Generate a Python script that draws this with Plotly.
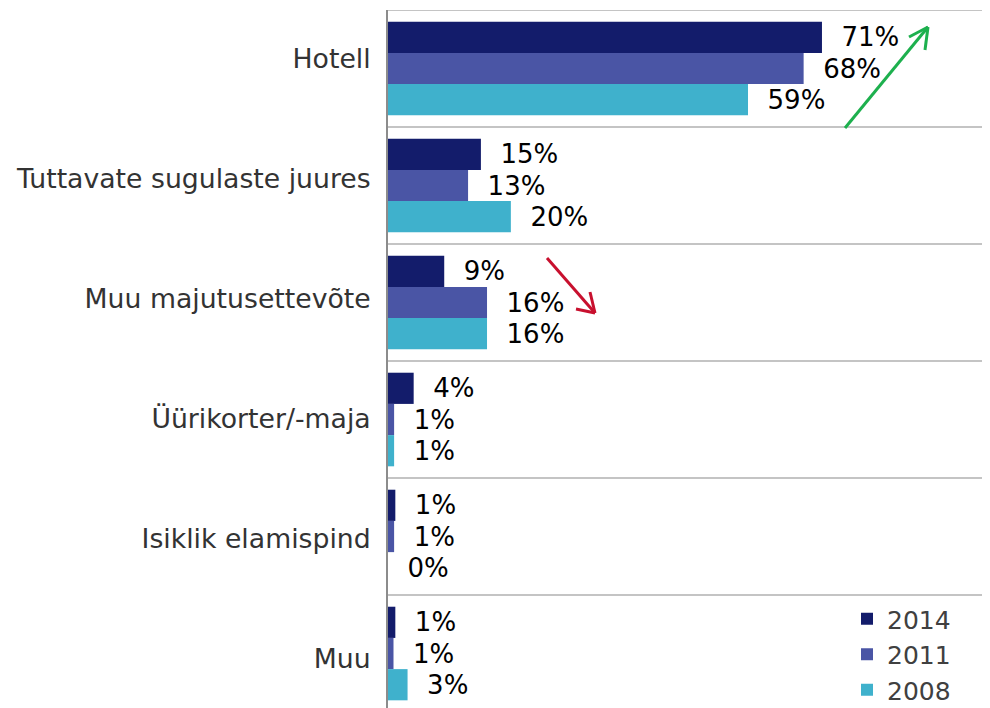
import plotly.graph_objects as go

categories = ["Hotell", "Tuttavate sugulaste juures", "Muu majutusettevõte",
              "Üürikorter/-maja", "Isiklik elamispind", "Muu"]
years = ["2014", "2011", "2008"]
values_2014 = [71.0, 15.2, 9.2, 4.2, 1.2, 1.2]
values_2011 = [68.0, 13.1, 16.2, 1.0, 1.0, 0.9]
values_2008 = [58.9, 20.1, 16.2, 1.0, 0.0, 3.2]
colors = ["#131c6b", "#4a55a5", "#3fb1cc"]

series = [values_2014, values_2011, values_2008]
pos = list(range(len(categories)))

W, H = 990, 708
OFF = 8  # page body margin
L, R, T, B = 380, 0, 2, 0
BAND = 117.0  # px per category band

# category labels sit on a slightly wider pitch than the bands (as in the original)
label_pos = [p + (3.0 * p - 9.5) / BAND for p in pos]


def px(xw, yw):
    """window pixel -> paper coords"""
    return (xw - OFF - L) / (W - L - R), (H - B - (yw - OFF)) / (H - T - B)


fig = go.Figure()
for name, vals, col in zip(years, series, colors):
    fig.add_trace(go.Bar(
        y=pos, x=vals, name=name, orientation="h",
        marker=dict(color=col, line=dict(width=0)),
        text=["  %d%%" % round(v) for v in vals],
        textposition="outside", cliponaxis=False,
        textfont=dict(family="DejaVu Sans", size=26, color="#000000"),
    ))

shapes = []
for k in range(len(categories) + 1):
    shapes.append(dict(type="line", xref="paper", yref="y", x0=0, x1=1,
                       y0=k - 0.5, y1=k - 0.5,
                       line=dict(color="#c4c4c4", width=2), layer="below"))


def seg(a, b, color):
    x0, y0 = px(*a)
    x1, y1 = px(*b)
    return dict(type="line", xref="paper", yref="paper", x0=x0, y0=y0, x1=x1, y1=y1,
                line=dict(color=color, width=3))


green = "#1db04e"
red = "#c8102e"
shapes += [seg((845, 128), (928, 27), green), seg((928, 27), (909, 37), green),
           seg((928, 27), (925, 50), green)]
shapes += [seg((547, 258), (595, 313), red), seg((595, 313), (576, 309), red),
           seg((595, 313), (590, 292), red)]

fig.update_layout(
    width=W, height=H, margin=dict(l=L, r=R, t=T, b=B),
    paper_bgcolor="white", plot_bgcolor="white",
    barmode="group", bargap=0.2, bargroupgap=0,
    showlegend=True,
    legend=dict(x=px(847, 0)[0], y=px(0, 596)[1], xanchor="left", yanchor="top",
                font=dict(family="DejaVu Sans", size=25, color="#404040"),
                bgcolor="rgba(0,0,0,0)", itemwidth=30, traceorder="normal"),
    xaxis=dict(range=[0, 99.8], showgrid=False, zeroline=False, showticklabels=False,
               showline=False, fixedrange=True),
    yaxis=dict(range=[5.534, -0.5], tickvals=label_pos, ticktext=categories,
               showgrid=False, zeroline=False, showline=True, linecolor="#8c8c8c",
               linewidth=2, ticks="", ticklabelstandoff=10,
               tickfont=dict(family="DejaVu Sans", size=26.7, color="#333333")),
    shapes=shapes,
)

fig.write_html("out.html")
